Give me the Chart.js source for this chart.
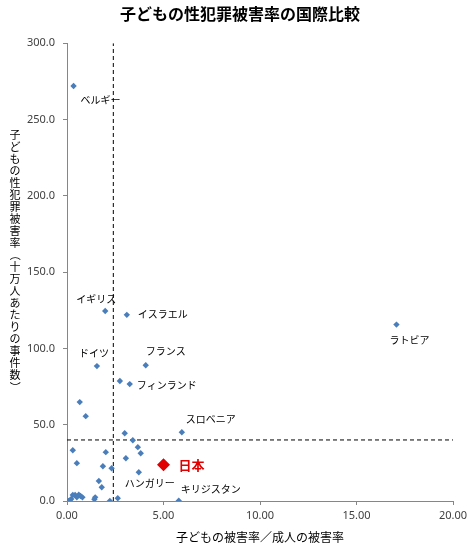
<!DOCTYPE html>
<html lang="ja">
<head>
<meta charset="utf-8">
<title>子どもの性犯罪被害率の国際比較</title>
<script src="https://cdn.jsdelivr.net/npm/chart.js@4.4.0/dist/chart.umd.min.js"></script>
<style>
  html, body { margin: 0; padding: 0; background: #fff; }
</style>
</head>
<body>
<canvas id="chart" width="472" height="550"></canvas>
<script>
// ----- Data -----
const countryNames = [
  "ベルギー", "イギリス", "イスラエル", "ドイツ", "フランス", "", "フィンランド", "ラトビア",
  "", "", "", "スロベニア", "", "", "", "", "", "", "", "", "", "", "", "",
  "ハンガリー", "キリジスタン", "", "", "", "", "", "", "", "", "", "", "", ""
];
// 子どもの被害率／成人の被害率
const victimRatio = [
  0.34, 1.98, 3.10, 1.55, 4.08, 2.74, 3.25, 17.07,
  0.66, 0.97, 2.99, 5.95, 3.41, 3.67, 3.82, 3.05, 3.72, 0.30, 0.51, 2.01, 1.86, 2.31, 1.65, 1.80,
  2.63, 5.79, 2.22, 1.46, 1.42, 0.13, 0.22, 0.30, 0.42, 0.51, 0.61, 0.70, 0.80, 0.08
];
// 子どもの性犯罪被害率（十万人あたりの事件数）
const childRate = [
  272.0, 124.5, 122.0, 88.4, 89.0, 78.6, 76.6, 115.6,
  64.8, 55.6, 44.4, 45.1, 39.8, 35.3, 31.3, 28.0, 18.8, 33.3, 24.8, 32.0, 22.8, 21.5, 13.1, 9.0,
  1.8, 0.2, 0.0, 2.4, 1.1, 0.2, 1.3, 3.9, 3.9, 2.4, 4.1, 3.3, 2.4, 0.0
];
const japanName = "日本";
const japanRatio = [5.0];
const japanRate = [23.8];
const xTicks = [0, 5, 10, 15, 20];
const yTicks = [0, 50, 100, 150, 200, 250, 300];
const refRatio = 2.4;  // vertical dashed line
const refRate = 40;    // horizontal dashed line

const yTitle = "子どもの性犯罪被害率（十万人あたりの事件数）";

// label placement, offset of text left edge from the point (px)
const labelOffsets = {
  "ベルギー": [7, 14],
  "イギリス": [-29, -12],
  "イスラエル": [11, -1],
  "ドイツ": [-18, -13],
  "フランス": [0, -14],
  "フィンランド": [7, 1],
  "ラトビア": [-7, 16],
  "スロベニア": [4, -13],
  "ハンガリー": [7, -15],
  "キリジスタン": [2, -11],
  "日本": [15, 0],
};

const axisGray = "#868686";
const tickFont = { family: "'Noto Sans', sans-serif", size: 11 };

const points = victimRatio.map((x, i) => ({ x, y: childRate[i] }));
const japanPoints = japanRatio.map((x, i) => ({ x, y: japanRate[i] }));

// ----- Plugins -----
const pointLabels = {
  id: "pointLabels",
  afterDatasetsDraw(chart) {
    const ctx = chart.ctx;
    const meta = chart.getDatasetMeta(0);
    ctx.save();
    ctx.textBaseline = "middle";
    ctx.textAlign = "left";
    ctx.font = "10px 'Noto Sans CJK JP'";
    ctx.fillStyle = "#000";
    countryNames.forEach((name, i) => {
      if (!name) return;
      const pt = meta.data[i];
      const off = labelOffsets[name] || [6, 0];
      ctx.fillText(name, pt.x + off[0], pt.y + off[1]);
    });
    const jp = chart.getDatasetMeta(1).data[0];
    const jOff = labelOffsets[japanName];
    ctx.font = "bold 13px 'Noto Sans CJK JP'";
    ctx.fillStyle = "#e00000";
    ctx.fillText(japanName, jp.x + jOff[0], jp.y + jOff[1]);
    ctx.restore();
  },
};

const verticalTitle = {
  id: "verticalTitle",
  afterDraw(chart) {
    const ctx = chart.ctx;
    ctx.save();
    ctx.font = "11px 'Noto Sans CJK JP'";
    ctx.fillStyle = "#000";
    ctx.textAlign = "center";
    ctx.textBaseline = "middle";
    const cx = 15;
    const startY = 135;
    const step = 12;
    Array.from(yTitle).forEach((ch, i) => {
      const cy = startY + i * step;
      if (ch === "（" || ch === "）") {
        ctx.save();
        ctx.translate(cx, cy);
        ctx.rotate(Math.PI / 2);
        ctx.fillText(ch, 0, 0);
        ctx.restore();
      } else {
        ctx.fillText(ch, cx, cy);
      }
    });
    ctx.restore();
  },
};

// ----- Chart -----
new Chart(document.getElementById("chart"), {
  type: "scatter",
  data: {
    datasets: [
      {
        label: "各国",
        data: points,
        pointStyle: "rectRot",
        pointRadius: 3.2,
        pointHoverRadius: 3.2,
        backgroundColor: "#4a7ebb",
        borderColor: "#4a7ebb",
        borderWidth: 0,
      },
      {
        label: japanName,
        data: japanPoints,
        pointStyle: "rectRot",
        pointRadius: 6.5,
        pointHoverRadius: 6.5,
        backgroundColor: "#e00000",
        borderColor: "#e00000",
        borderWidth: 0,
      },
      {
        type: "line",
        label: "縦線",
        data: [{ x: refRatio, y: 0 }, { x: refRatio, y: yTicks[yTicks.length - 1] }],
        borderColor: "#000",
        borderWidth: 1,
        borderDash: [4, 3],
        pointRadius: 0,
        fill: false,
      },
      {
        type: "line",
        label: "横線",
        data: [{ x: xTicks[0], y: refRate }, { x: xTicks[xTicks.length - 1], y: refRate }],
        borderColor: "#000",
        borderWidth: 1,
        borderDash: [4, 3],
        pointRadius: 0,
        fill: false,
      },
    ],
  },
  options: {
    responsive: false,
    animation: false,
    events: [],
    layout: { padding: { left: 27, right: 19, top: 0, bottom: 0 } },
    plugins: {
      legend: { display: false },
      tooltip: { enabled: false },
      title: {
        display: true,
        text: "子どもの性犯罪被害率の国際比較",
        color: "#000",
        font: { family: "'Noto Sans CJK JP'", size: 16, weight: "bold" },
        padding: { top: 4, bottom: 20 },
      },
    },
    scales: {
      x: {
        type: "linear",
        min: xTicks[0],
        max: xTicks[xTicks.length - 1],
        afterBuildTicks: (s) => { s.ticks = xTicks.map((v) => ({ value: v })); },
        afterFit: (s) => { s.height = 49; },
        ticks: {
          color: "#404040",
          font: tickFont,
          padding: 4,
          callback: (v) => Number(v).toFixed(2),
        },
        grid: { drawOnChartArea: false, drawTicks: true, tickLength: 4, color: axisGray },
        border: { display: true, color: axisGray },
        title: {
          display: true,
          text: "子どもの被害率／成人の被害率",
          color: "#000",
          font: { family: "'Noto Sans CJK JP'", size: 12 },
          padding: { top: 4, bottom: 5 },
        },
      },
      y: {
        type: "linear",
        min: yTicks[0],
        max: yTicks[yTicks.length - 1],
        afterBuildTicks: (s) => { s.ticks = yTicks.map((v) => ({ value: v })); },
        afterFit: (s) => { s.width = 40; },
        ticks: {
          color: "#404040",
          font: tickFont,
          padding: 8,
          callback: (v) => Number(v).toFixed(1),
        },
        grid: { drawOnChartArea: false, drawTicks: true, tickLength: 4, color: axisGray },
        border: { display: true, color: axisGray },
      },
    },
  },
  plugins: [pointLabels, verticalTitle],
});
</script>
</body>
</html>
